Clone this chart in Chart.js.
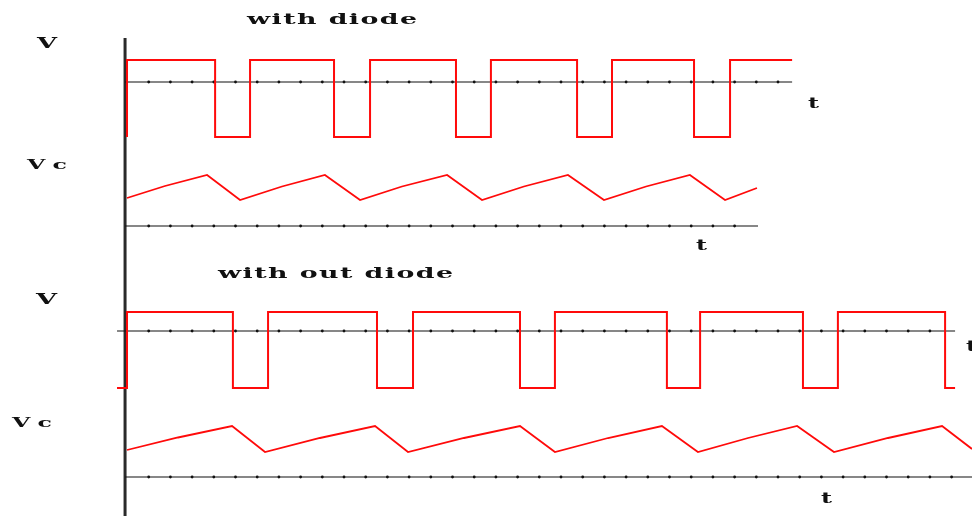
<!DOCTYPE html>
<html><head><meta charset="utf-8">
<script src="https://cdn.jsdelivr.net/npm/chart.js@4/dist/chart.umd.min.js"></script>
<style>html,body{margin:0;padding:0;background:#fff;}canvas{display:block;}</style>
</head><body>
<canvas id="c" width="972" height="516"></canvas>
<script>
// ---- data (time in ms-like units, levels in volts) ----
// Panel 1: source V, with diode
const vDiodeTimes  = [0, 0, 4.06, 5.67, 9.54, 11.20, 15.16, 16.77, 20.74, 22.35, 26.13, 27.79, 30.65];
const vDiodeLevels = [-5, 2, -5, 2, -5, 2, -5, 2, -5, 2, -5, 2, 2];
// Panel 2: capacitor voltage Vc, with diode
const vcDiodeTimes  = [0, 1.75, 3.69, 5.21, 7.14, 9.12, 10.74, 12.67, 14.75, 16.36, 18.29, 20.32, 21.98, 23.92, 25.94, 27.56, 29.03];
const vcDiodeLevels = [2.8, 4.0, 5.1, 2.6, 3.95, 5.1, 2.6, 3.95, 5.1, 2.6, 3.95, 5.1, 2.6, 3.95, 5.1, 2.6, 3.8];
// Panel 3: source V, without diode
const vNoDiodeTimes  = [-0.46, 0, 4.88, 6.50, 11.52, 13.18, 18.11, 19.72, 24.88, 26.41, 31.15, 32.76, 37.70, 38.16];
const vNoDiodeLevels = [-6, 2, -6, 2, -6, 2, -6, 2, -6, 2, -6, 2, -6, -6];
// Panel 4: capacitor voltage Vc, without diode
const vcNoDiodeTimes  = [0, 2.35, 4.84, 6.36, 8.89, 11.43, 12.95, 15.53, 18.11, 19.72, 22.17, 24.65, 26.31, 28.62, 30.88, 32.58, 35.07, 37.56, 38.94];
const vcNoDiodeLevels = [2.7, 3.95, 5.1, 2.5, 3.9, 5.1, 2.5, 3.9, 5.1, 2.5, 3.9, 5.1, 2.5, 3.9, 5.1, 2.5, 3.9, 5.1, 2.8];

// time-axis extents (start, end) and tick marks for each panel
const axisSpan1 = [-0.09, 30.65];
const axisSpan2 = [-0.09, 29.08];
const axisSpan3 = [-0.46, 38.16];
const axisSpan4 = [-0.09, 38.94];
const ticks1 = Array.from({length: 30}, (_, i) => i + 1);
const ticks2 = Array.from({length: 28}, (_, i) => i + 1);
const ticks3 = Array.from({length: 37}, (_, i) => i + 1);
const ticks4 = Array.from({length: 38}, (_, i) => i + 1);

// text
const titleWith = 'with diode';
const titleWithout = 'with out diode';
const labelV = 'V';
const labelVc = 'Vc';
const labelT = 't';

// ---- helpers ----
const pts = (xs, ys) => xs.map((x, i) => ({x: x, y: ys[i]}));
function axisDataset(span, ticks, yAxisID) {
  const data = [{x: span[0], y: 0}].concat(ticks.map(t => ({x: t, y: 0})), [{x: span[1], y: 0}]);
  const radii = data.map((d, i) => (i === 0 || i === data.length - 1) ? 0 : 1.4);
  return {
    data, yAxisID, borderColor: '#111', borderWidth: 1.2,
    pointRadius: radii, pointBackgroundColor: '#111', pointBorderWidth: 0,
    tension: 0, order: 2
  };
}
const RED = '#ff0a0a';

const textLayout = [
  {text: titleWith,    left: 247, base: 24,  width: 170, size: 15, sp: 0.8},
  {text: labelV,       left: 37,  base: 48,  width: 20,  size: 14, sp: 0},
  {text: labelT,       left: 808, base: 108, width: 11,  size: 14, sp: 0},
  {text: labelVc,      left: 27,  base: 169, width: 40,  size: 13, sp: 4},
  {text: labelT,       left: 696, base: 250, width: 11,  size: 14, sp: 0},
  {text: titleWithout, left: 218, base: 278, width: 235, size: 15, sp: 0.8},
  {text: labelV,       left: 36,  base: 304, width: 21,  size: 14, sp: 0},
  {text: labelT,       left: 966, base: 351, width: 11,  size: 14, sp: 0},
  {text: labelVc,      left: 12,  base: 427, width: 40,  size: 13, sp: 4},
  {text: labelT,       left: 821, base: 503, width: 11,  size: 14, sp: 0}
];

const decorPlugin = {
  id: 'decor',
  beforeDatasetsDraw(chart) {
    const ctx = chart.ctx;
    const x = chart.scales.x.getPixelForValue(-0.09);
    const top = chart.scales.yV1.getPixelForValue(4.0);
    ctx.save();
    ctx.strokeStyle = '#2a2a2a';
    ctx.lineWidth = 3;
    ctx.beginPath();
    ctx.moveTo(x, top);
    ctx.lineTo(x, chart.chartArea.bottom);
    ctx.stroke();
    ctx.restore();
  },
  afterDraw(chart) {
    const ctx = chart.ctx;
    textLayout.forEach(l => {
      ctx.save();
      ctx.font = 'bold ' + l.size + 'px "DejaVu Serif", "Liberation Serif", serif';
      ctx.letterSpacing = l.sp + 'px';
      const w = ctx.measureText(l.text).width - l.sp;
      ctx.translate(l.left, l.base);
      ctx.scale(l.width / w, 1);
      ctx.fillStyle = '#111';
      ctx.textBaseline = 'alphabetic';
      ctx.fillText(l.text, 0, 0);
      ctx.restore();
    });
  }
};

const hidden = {display: false, bounds: 'data'};
new Chart(document.getElementById('c'), {
  type: 'line',
  data: {
    datasets: [
      {data: pts(vDiodeTimes, vDiodeLevels), yAxisID: 'yV1', stepped: 'before', borderColor: RED, borderWidth: 2, pointRadius: 0, order: 1},
      {data: pts(vcDiodeTimes, vcDiodeLevels), yAxisID: 'yVc1', borderColor: RED, borderWidth: 1.8, pointRadius: 0, tension: 0, order: 1},
      {data: pts(vNoDiodeTimes, vNoDiodeLevels), yAxisID: 'yV2', stepped: 'before', borderColor: RED, borderWidth: 2, pointRadius: 0, order: 1},
      {data: pts(vcNoDiodeTimes, vcNoDiodeLevels), yAxisID: 'yVc2', borderColor: RED, borderWidth: 1.8, pointRadius: 0, tension: 0, order: 1},
      axisDataset(axisSpan1, ticks1, 'yV1'),
      axisDataset(axisSpan2, ticks2, 'yVc1'),
      axisDataset(axisSpan3, ticks3, 'yV2'),
      axisDataset(axisSpan4, ticks4, 'yVc2')
    ]
  },
  options: {
    responsive: false,
    animation: false,
    layout: {padding: 0},
    plugins: {legend: {display: false}, tooltip: {enabled: false}, title: {display: false}},
    scales: {
      x: Object.assign({type: 'linear', min: -5.853, max: 38.94}, hidden),
      yV1: Object.assign({type: 'linear', min: -39.4545, max: 7.4545}, hidden),
      yVc1: Object.assign({type: 'linear', min: -29.0, max: 22.6}, hidden),
      yV2: Object.assign({type: 'linear', min: -19.474, max: 34.842}, hidden),
      yVc2: Object.assign({type: 'linear', min: -3.9, max: 47.7}, hidden)
    }
  },
  plugins: [decorPlugin]
});
</script>
</body></html>
